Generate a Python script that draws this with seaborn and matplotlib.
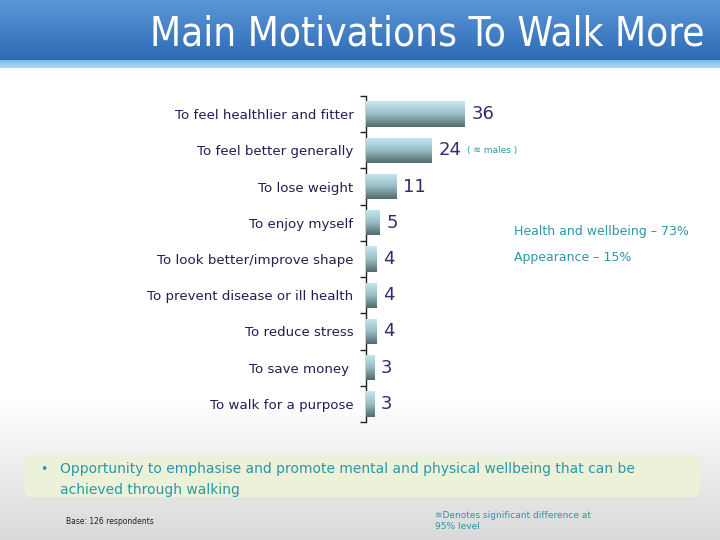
import numpy as np
import pandas as pd
import matplotlib
matplotlib.use("Agg")
import matplotlib.pyplot as plt
import seaborn as sns
from matplotlib.patches import FancyBboxPatch
from matplotlib.colors import LinearSegmentedColormap

# ---- data ----
categories = [
    "To feel healthlier and fitter",
    "To feel better generally",
    "To lose weight",
    "To enjoy myself",
    "To look better/improve shape",
    "To prevent disease or ill health",
    "To reduce stress",
    "To save money ",
    "To walk for a purpose",
]
values = [36, 24, 11, 5, 4, 4, 4, 3, 3]
title = "Main Motivations To Walk More"
side_notes = ["Health and wellbeing \u2013 73%", "Appearance \u2013 15%"]
bullet_line1 = "Opportunity to emphasise and promote mental and physical wellbeing that can be"
bullet_line2 = "achieved through walking"
base_text = "Base: 126 respondents"
sig_text = "\u224bDenotes significant difference at\n95% level"
males_note = "( \u224b males )"

df = pd.DataFrame({"category": categories, "value": values})

sns.set_theme(style="white")
plt.rcParams["font.family"] = ["DejaVu Sans"]

W, H = 720, 540
fig = plt.figure(figsize=(7.2, 5.4), dpi=100)

# ---- background layer (pixel coords) ----
bg = fig.add_axes([0, 0, 1, 1], zorder=0)
bg.axis("off")

ys = np.arange(H, dtype=float)
g = np.where(ys < 400, 1.0, 1.0 - (ys - 400) / (H - 400) * 0.15).reshape(-1, 1)
page = np.dstack([g, g, g])
page = np.repeat(page, 2, axis=1)
bg.imshow(page, extent=(0, W, H, 0), aspect="auto", zorder=0)

tb_cmap = LinearSegmentedColormap.from_list("tb", ["#5b97d6", "#2d6bb7"])
tb = np.linspace(0, 1, 60).reshape(-1, 1)
bg.imshow(tb, cmap=tb_cmap, extent=(0, W, 60, 0), aspect="auto", zorder=1)
stripe_cmap = LinearSegmentedColormap.from_list("st", ["#7fbde6", "#a9d8f0"])
st = np.linspace(0, 1, 8).reshape(-1, 1)
bg.imshow(st, cmap=stripe_cmap, extent=(0, W, 68, 60), aspect="auto", zorder=1)
bg.set_xlim(0, W)
bg.set_ylim(H, 0)

bg.text(704, 34, title, color="white", fontsize=29, ha="right", va="center",
        fontstretch="condensed", zorder=3)

box = FancyBboxPatch((24, 455), 676, 42, boxstyle="round,pad=0,rounding_size=8",
                     facecolor="#ecf1da", edgecolor="none", zorder=2)
bg.add_patch(box)
bg.text(44, 469, "\u2022", color="#2a97a8", fontsize=9, ha="center", va="center", zorder=3)
bg.text(60, 469, bullet_line1, color="#2a97a8", fontsize=10, ha="left", va="center", zorder=3)
bg.text(60, 490, bullet_line2, color="#2a97a8", fontsize=10, ha="left", va="center", zorder=3)
bg.text(66, 521, base_text, color="#222222", fontsize=5.5, ha="left", va="center", zorder=3)
bg.text(435, 521, sig_text, color="#2a97a8", fontsize=6.5, ha="left", va="center",
        linespacing=1.3, zorder=3)
bg.text(467, 151, males_note, color="#2a97a8", fontsize=6.5, ha="left", va="center", zorder=3)
bg.text(514, 232, side_notes[0], color="#2a97a8", fontsize=9, ha="left", va="center", zorder=3)
bg.text(514, 257, side_notes[1], color="#2a97a8", fontsize=9, ha="left", va="center", zorder=3)

# ---- chart ----
ax_top = 96
ax_bot = 422
ax = fig.add_axes([366 / W, 1 - ax_bot / H, 110 / W, (ax_bot - ax_top) / H], zorder=5)
ax.patch.set_alpha(0)

sns.barplot(data=df, x="value", y="category", orient="h", width=0.7,
            color="#8fb3b8", ax=ax, zorder=2)

bar_cmap = LinearSegmentedColormap.from_list("bar", ["#c6e8f0", "#98bfc5", "#536a6c"])
gradient = np.linspace(0, 1, 64).reshape(-1, 1)
for p in ax.patches:
    x0, y0, w, h = p.get_x(), p.get_y(), p.get_width(), p.get_height()
    im = ax.imshow(gradient, cmap=bar_cmap, extent=(x0, x0 + w, y0 + h, y0),
                   origin="upper", aspect="auto", zorder=3)
    im.set_clip_path(p)
    p.set_edgecolor("none")

ax.set_xlim(0, 40)
ax.set_ylim(len(categories) - 0.5, -0.5)

for i, v in enumerate(values):
    ax.text(v + 2.3, i, str(v), color="#2e2e6e", fontsize=13, ha="left", va="center",
            clip_on=False, zorder=6)

ax.set_xlabel("")
ax.set_ylabel("")
ax.set_xticks([])
for s in ["top", "right", "bottom"]:
    ax.spines[s].set_visible(False)
ax.spines["left"].set_color("#222222")
ax.spines["left"].set_linewidth(1.0)
ax.tick_params(axis="y", which="major", length=0, pad=9, labelsize=9.6, labelcolor="#1f1f55")
ax.set_yticks(np.arange(-0.5, len(categories), 1.0), minor=True)
ax.tick_params(axis="y", which="minor", length=4, width=1, color="#222222", direction="out", left=True)

fig.savefig("out.png", dpi=100)
